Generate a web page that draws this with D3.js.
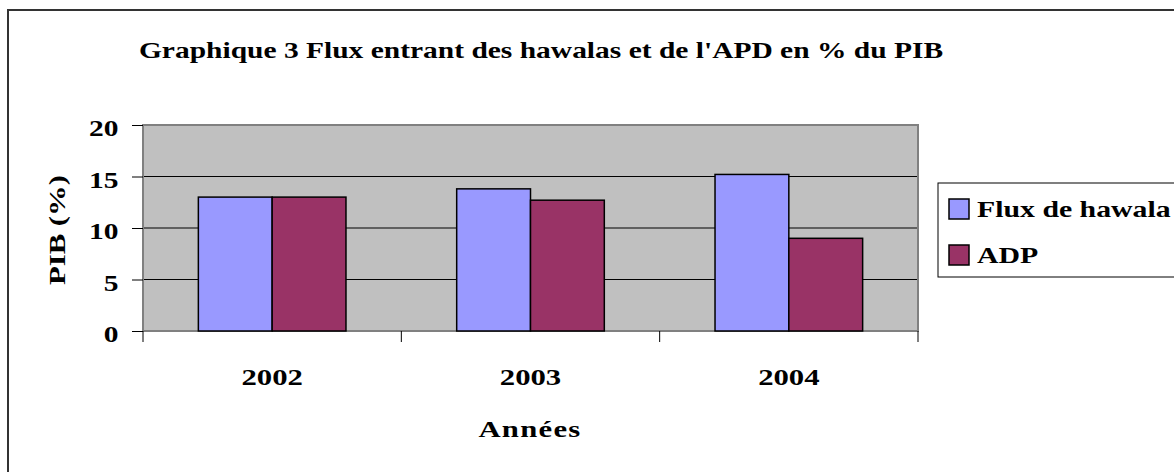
<!DOCTYPE html>
<html>
<head>
<meta charset="utf-8">
<script src="https://cdn.jsdelivr.net/npm/d3@7"></script>
<style>
    body { margin: 0; background: #fff; }
    text { font-family: "Liberation Serif", "Times New Roman", serif; font-weight: bold; fill: #000; }
</style>
</head>
<body>
<div id="chart"></div>
<script>
const years = ['2002', '2003', '2004'];
const seriesNames = ['Flux de hawala', 'ADP'];
const hawala = [13.0, 13.8, 15.2];
const adp = [13.0, 12.7, 9.0];
const yTicks = [0, 5, 10, 15, 20];
const colors = ['#9999FF', '#993366'];

const W = 1174, H = 472;
const stretch = 1.28; // glyphs look wider than Times

const svg = d3.select('#chart').append('svg')
    .attr('width', W)
    .attr('height', H);

// outer frame
svg.append('rect')
    .attr('x', 8).attr('y', 10)
    .attr('width', W + 10).attr('height', H + 10)
    .attr('fill', '#fff')
    .attr('stroke', '#333')
    .attr('stroke-width', 2);

const plot = { left: 143, right: 918, top: 125, bottom: 331 };

const x0 = d3.scaleBand()
    .domain(years)
    .range([plot.left, plot.right])
    .padding(0);

const x1 = d3.scaleBand()
    .domain(seriesNames)
    .range([0, x0.bandwidth()])
    .paddingInner(0)
    .paddingOuter(0.75);

const y = d3.scaleLinear()
    .domain([0, 20])
    .range([plot.bottom, plot.top]);

// plot background
svg.append('rect')
    .attr('x', plot.left).attr('y', plot.top)
    .attr('width', plot.right - plot.left)
    .attr('height', plot.bottom - plot.top)
    .attr('fill', '#C0C0C0');

// gridlines
svg.append('g')
    .selectAll('line')
    .data(yTicks.filter(d => d > 0 && d < 20))
    .enter()
    .append('line')
    .attr('x1', plot.left).attr('x2', plot.right)
    .attr('y1', d => y(d)).attr('y2', d => y(d))
    .attr('stroke', '#000')
    .attr('stroke-width', 1);

// plot border
svg.append('rect')
    .attr('x', plot.left).attr('y', plot.top)
    .attr('width', plot.right - plot.left)
    .attr('height', plot.bottom - plot.top)
    .attr('fill', 'none')
    .attr('stroke', '#808080')
    .attr('stroke-width', 2);

// bars
const rows = years.map((yr, i) => ({ year: yr, values: [hawala[i], adp[i]] }));
const groups = svg.append('g')
    .selectAll('g')
    .data(rows)
    .enter()
    .append('g')
    .attr('transform', d => `translate(${x0(d.year)},0)`);

groups.selectAll('rect')
    .data(d => d.values.map((v, j) => ({ name: seriesNames[j], value: v, color: colors[j] })))
    .enter()
    .append('rect')
    .attr('x', d => x1(d.name))
    .attr('width', x1.bandwidth())
    .attr('y', d => y(d.value))
    .attr('height', d => plot.bottom - y(d.value))
    .attr('fill', d => d.color)
    .attr('stroke', '#000')
    .attr('stroke-width', 1.5);

// y axis
const yAxis = svg.append('g')
    .attr('transform', `translate(${plot.left},0)`)
    .call(d3.axisLeft(y).tickValues(yTicks).tickSize(11).tickPadding(9));
yAxis.select('.domain').remove();
yAxis.selectAll('line').attr('stroke', '#000');
yAxis.selectAll('text')
    .style('font-size', '24px')
    .style('font-family', '"Liberation Serif", serif')
    .style('font-weight', 'bold')
    .attr('dy', '0.45em')
    .attr('transform', `scale(${stretch * 0.96},1)`);

// x axis: labels at centers, ticks at boundaries
const xAxis = svg.append('g')
    .attr('transform', `translate(0,${plot.bottom})`)
    .call(d3.axisBottom(x0).tickSize(0).tickPadding(37));
xAxis.select('.domain').remove();
xAxis.selectAll('text')
    .style('font-size', '24px')
    .style('font-family', '"Liberation Serif", serif')
    .style('font-weight', 'bold')
    .attr('transform', `scale(${stretch},1)`);

const bounds = years.map(d => x0(d)).concat([plot.right]);
svg.append('g')
    .selectAll('line')
    .data(bounds)
    .enter()
    .append('line')
    .attr('x1', d => d).attr('x2', d => d)
    .attr('y1', plot.bottom).attr('y2', plot.bottom + 11)
    .attr('stroke', '#000');

// title
svg.append('text')
    .attr('transform', `translate(541,58) scale(${stretch * 0.96},1)`)
    .attr('text-anchor', 'middle')
    .style('font-size', '24px')
    .text("Graphique 3 Flux entrant des hawalas et de l'APD en % du PIB");

// axis titles
svg.append('text')
    .attr('transform', `translate(65,230) rotate(-90) scale(${stretch},1)`)
    .attr('text-anchor', 'middle')
    .style('font-size', '24px')
    .text('PIB (%)');

svg.append('text')
    .attr('transform', `translate(530,437) scale(${stretch},1)`)
    .attr('text-anchor', 'middle')
    .style('font-size', '24px')
    .style('letter-spacing', '1px')
    .text('Années');

// legend
const legend = svg.append('g')
    .attr('transform', 'translate(938,183)');

legend.append('rect')
    .attr('width', 260).attr('height', 94)
    .attr('fill', '#fff')
    .attr('stroke', '#000')
    .attr('stroke-width', 1);

const item = legend.selectAll('.item')
    .data(seriesNames)
    .enter()
    .append('g')
    .attr('class', 'item')
    .attr('transform', (d, i) => `translate(11,${16 + i * 46})`);

item.append('rect')
    .attr('width', 20).attr('height', 20)
    .attr('fill', (d, i) => colors[i])
    .attr('stroke', '#000')
    .attr('stroke-width', 1.5);

item.append('text')
    .attr('transform', `translate(28,18) scale(${stretch * 0.97},1)`)
    .style('font-size', '24px')
    .text(d => d);
</script>
</body>
</html>
